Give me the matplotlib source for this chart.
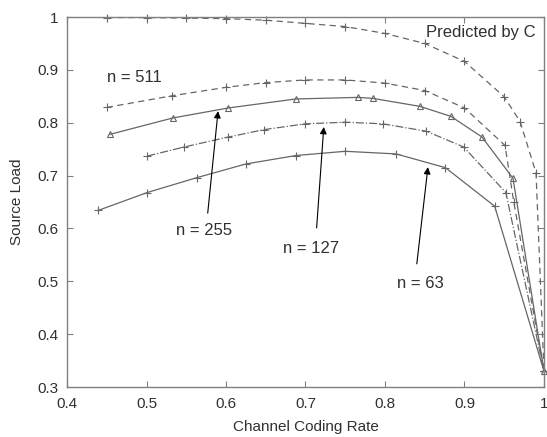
import matplotlib
matplotlib.use('Agg')
import matplotlib.pyplot as plt

plt.rcParams['font.family'] = ['Liberation Sans', 'DejaVu Sans']

# predicted by C (upper bound)
rate_c = [0.45, 0.50, 0.55, 0.60, 0.65, 0.70, 0.75, 0.80, 0.85, 0.90, 0.95, 0.97, 0.99, 1.0]
load_c = [0.999, 0.999, 0.998, 0.997, 0.994, 0.988, 0.982, 0.969, 0.950, 0.916, 0.849, 0.802, 0.705, 0.33]

# n = 511
rate_511 = [0.45, 0.532, 0.60, 0.65, 0.70, 0.75, 0.80, 0.85, 0.90, 0.951, 0.962, 1.0]
load_511 = [0.829, 0.851, 0.867, 0.876, 0.881, 0.881, 0.875, 0.861, 0.828, 0.757, 0.65, 0.33]

# n = 255
rate_255 = [0.454, 0.533, 0.603, 0.688, 0.766, 0.785, 0.844, 0.883, 0.922, 0.961, 1.0]
load_255 = [0.778, 0.809, 0.828, 0.845, 0.848, 0.846, 0.831, 0.812, 0.773, 0.695, 0.33]

# n = 127
rate_127 = [0.501, 0.547, 0.603, 0.648, 0.70, 0.75, 0.797, 0.852, 0.899, 0.952, 1.0]
load_127 = [0.737, 0.754, 0.773, 0.787, 0.798, 0.801, 0.798, 0.784, 0.754, 0.668, 0.33]

# n = 63
rate_63 = [0.439, 0.501, 0.563, 0.625, 0.688, 0.75, 0.814, 0.876, 0.938, 1.0]
load_63 = [0.634, 0.668, 0.696, 0.722, 0.738, 0.746, 0.741, 0.715, 0.642, 0.33]

col = '#666666'
txt = '#303030'

fig = plt.figure(figsize=(5.47, 4.37), dpi=100)
ax = fig.add_axes([0.1225, 0.1144, 0.8720, 0.8466])

ax.plot(rate_c, load_c, '--', color=col, lw=0.9, marker='+', ms=6, mew=0.8, dashes=(5, 3.5), clip_on=False)
ax.plot(rate_511, load_511, '--', color=col, lw=0.9, marker='+', ms=6, mew=0.8, dashes=(5, 3.5))
ax.plot(rate_255, load_255, '-', color=col, lw=0.9, marker='^', ms=5, mfc='none', mew=0.8, clip_on=False)
ax.plot(rate_127, load_127, '-.', color=col, lw=0.9, marker='+', ms=6, mew=0.8)
ax.plot(rate_63, load_63, '-', color=col, lw=0.9, marker='+', ms=6, mew=0.8)

ax.text(0.45, 0.885, 'n = 511', fontsize=12, va='center', ha='left', color=txt)
ax.text(0.989, 0.970, 'Predicted by C', fontsize=12, va='center', ha='right', color=txt)

arr = dict(arrowstyle='-|>', color='black', lw=0.8, mutation_scale=10, shrinkA=0, shrinkB=0)
ax.annotate('', xy=(0.590, 0.822), xytext=(0.577, 0.629), arrowprops=arr)
ax.annotate('', xy=(0.723, 0.792), xytext=(0.714, 0.601), arrowprops=arr)
ax.annotate('', xy=(0.854, 0.716), xytext=(0.840, 0.533), arrowprops=arr)
ax.text(0.572, 0.597, 'n = 255', fontsize=12, va='center', ha='center', color=txt)
ax.text(0.707, 0.563, 'n = 127', fontsize=12, va='center', ha='center', color=txt)
ax.text(0.845, 0.495, 'n = 63', fontsize=12, va='center', ha='center', color=txt)

ax.set_xlim(0.4, 1.0)
ax.set_ylim(0.3, 1.0)
ax.set_xticks([0.4, 0.5, 0.6, 0.7, 0.8, 0.9, 1.0])
ax.set_xticklabels(['0.4', '0.5', '0.6', '0.7', '0.8', '0.9', '1'])
ax.set_yticks([0.3, 0.4, 0.5, 0.6, 0.7, 0.8, 0.9, 1.0])
ax.set_yticklabels(['0.3', '0.4', '0.5', '0.6', '0.7', '0.8', '0.9', '1'])

for s in ax.spines.values():
    s.set_color('#808080')
    s.set_linewidth(1.0)
ax.tick_params(direction='in', length=4, width=0.8, color='#808080', labelsize=11,
               labelcolor=txt, top=True, right=True)
ax.tick_params(axis='x', pad=7)
ax.tick_params(axis='y', pad=6)

ax.set_xlabel('Channel Coding Rate', fontsize=11, labelpad=7, color=txt)
ax.set_ylabel('Source Load', fontsize=11, labelpad=10, color=txt)

fig.savefig('out.png', dpi=100)
